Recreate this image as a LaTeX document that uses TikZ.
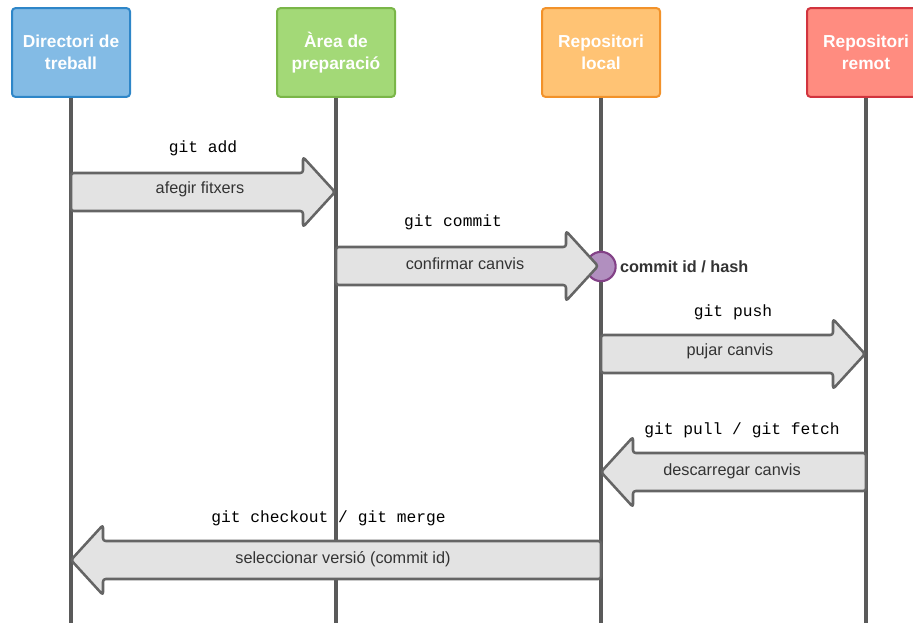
\documentclass[tikz,border=0pt]{standalone}
\usepackage{fontspec}
\setmainfont{Liberation Sans}
\setmonofont{Liberation Mono}
\usetikzlibrary{calc}

\definecolor{dirFill}{HTML}{83BBE5}
\definecolor{dirLine}{HTML}{2E86C8}
\definecolor{stgFill}{HTML}{A3D977}
\definecolor{stgLine}{HTML}{7AB648}
\definecolor{locFill}{HTML}{FFC374}
\definecolor{locLine}{HTML}{F2922A}
\definecolor{remFill}{HTML}{FF8C80}
\definecolor{remLine}{HTML}{D1343E}
\definecolor{hashFill}{HTML}{B18FBF}
\definecolor{hashLine}{HTML}{834187}
\definecolor{lifeGray}{HTML}{5A5A5A}
\definecolor{arrFill}{HTML}{E3E3E3}
\definecolor{arrLine}{HTML}{656565}
\definecolor{txtDark}{HTML}{333333}

% block arrow from #1 (tail) to #2 (tip); #3 = 1 points right, -1 points left
\newcommand\blockarrow[3]{%
  \draw[flow] ($(#1)+(0,-19)$) -- ($(#2)+(#3*-32,-19)$) -- ($(#2)+(#3*-32,-35)$)
    -- (#2) -- ($(#2)+(#3*-32,35)$) -- ($(#2)+(#3*-32,19)$) -- ($(#1)+(0,19)$) -- cycle;}

\begin{document}
\begin{tikzpicture}[x=0.75pt,y=-0.75pt,
  actor/.style={draw, line width=1.5pt, rounded corners=2.5pt, minimum width=88.5pt,
    minimum height=66.5pt, align=center, text=white, inner sep=0pt,
    font=\fontsize{13}{16.5}\selectfont\bfseries},
  life/.style={draw=lifeGray, line width=2.5pt},
  flow/.style={draw=arrLine, fill=arrFill, line width=1.9pt, rounded corners=2pt, line join=round},
  inlabel/.style={text=txtDark, font=\fontsize{12.2}{14}\selectfont},
  cmd/.style={text=black, font=\ttfamily\fontsize{12.2}{14}\selectfont},
]
\useasboundingbox (0,0) rectangle (913,622);
\clip (0,0) rectangle (913,622);

% participants
\node[actor, fill=dirFill, draw=dirLine] (dir) at (71,52.5) {Directori de\\treball};
\node[actor, fill=stgFill, draw=stgLine] (stg) at (336,52.5) {Àrea de\\preparació};
\node[actor, fill=locFill, draw=locLine] (loc) at (601,52.5) {Repositori\\local};
\node[actor, fill=remFill, draw=remLine] (rem) at (866,52.5) {Repositori\\remot};

% lifelines
\coordinate (dirEnd) at (71,624);
\coordinate (stgEnd) at (336,624);
\coordinate (locEnd) at (601,624);
\coordinate (remEnd) at (866,624);
\draw[life] (dir.south) -- (dirEnd);
\draw[life] (stg.south) -- (stgEnd);
\draw[life] (loc.south) -- (locEnd);
\draw[life] (rem.south) -- (remEnd);

% commit marker on the local repository
\node[circle, fill=hashFill, draw=hashLine, line width=1.6pt, minimum size=22pt, inner sep=0pt]
  (hash) at (601,266.5) {};
\node[anchor=west, text=txtDark, font=\fontsize{12.2}{14}\selectfont\bfseries, inner sep=0pt]
  (hashTxt) at ($(hash.east)+(3,0)$) {commit id / hash};

% message end points on the lifelines
\coordinate (addS) at (71,192);   \coordinate (addE) at (335,192);
\coordinate (comS) at (336,266);  \coordinate (comE) at (598,266);
\coordinate (pushS) at (601,354); \coordinate (pushE) at (865,354);
\coordinate (pullS) at (866,472); \coordinate (pullE) at (601,472);
\coordinate (chkS) at (601,560);  \coordinate (chkE) at (71,560);

\blockarrow{addS}{addE}{1}
\blockarrow{comS}{comE}{1}
\blockarrow{pushS}{pushE}{1}
\blockarrow{pullS}{pullE}{-1}
\blockarrow{chkS}{chkE}{-1}

% texts inside the arrows
\node[inlabel] (addIn) at (200,189.5) {afegir fitxers};
\node[inlabel] (comIn) at (465,263.5) {confirmar canvis};
\node[inlabel] (pushIn) at (730,351.5) {pujar canvis};
\node[inlabel] (pullIn) at (732,471.5) {descarregar canvis};
\node[inlabel] (chkIn) at (343,559.5) {seleccionar versió (commit id)};

% git commands
\node[cmd] (addCmd) at (203,148) {git add};
\node[cmd] (comCmd) at (453,222) {git commit};
\node[cmd] (pushCmd) at (733,312) {git push};
\node[cmd] (pullCmd) at (742,430) {git pull / git fetch};
\node[cmd] (chkCmd) at (328.5,518) {git checkout / git merge};
\end{tikzpicture}
\end{document}
